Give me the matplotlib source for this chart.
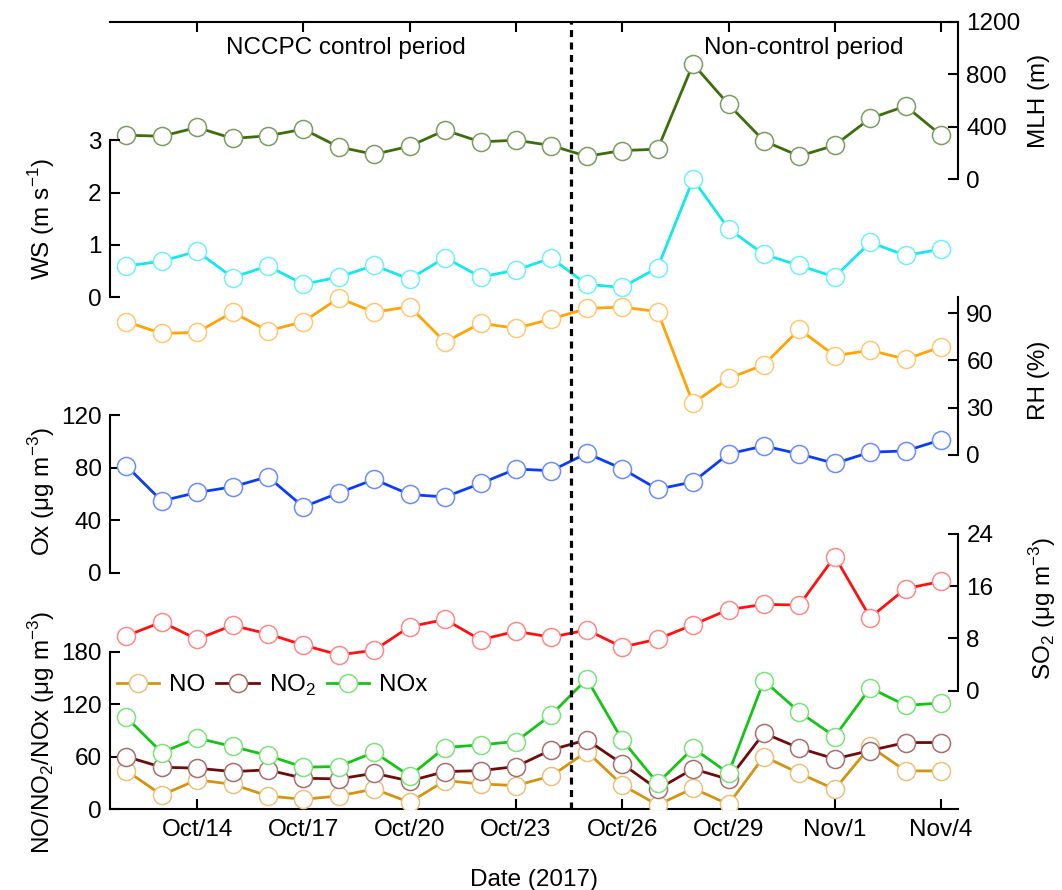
import numpy as np
import pandas as pd
import matplotlib
matplotlib.use('Agg')
import matplotlib.pyplot as plt

plt.rcParams['font.family'] = ['Liberation Sans', 'DejaVu Sans']
plt.rcParams['mathtext.fontset'] = 'custom'
plt.rcParams['mathtext.rm'] = 'Liberation Sans'
plt.rcParams['font.size'] = 17.5

dates = pd.date_range('2017-10-12', '2017-11-04', freq='D')

mlh = [337, 329, 396, 312, 332, 383, 247, 191, 253, 375, 286, 299,
       258, 176, 220, 230, 880, 572, 293, 178, 260, 465, 559, 337]
ws = [0.60, 0.69, 0.88, 0.38, 0.60, 0.25, 0.39, 0.61, 0.35, 0.76, 0.39, 0.52,
      0.75, 0.25, 0.19, 0.57, 2.25, 1.31, 0.82, 0.61, 0.39, 1.05, 0.80, 0.92]
rh = [84.6, 77.1, 77.8, 90.6, 78.8, 84.6, 99.6, 90.6, 94.2, 71.6, 83.6, 80.4,
      86.3, 93.0, 93.9, 91.0, 32.8, 48.6, 57.2, 79.7, 63.0, 66.4, 60.8, 68.5]
ox = [81.7, 54.9, 61.3, 65.6, 73.3, 50.3, 61.0, 71.3, 59.8, 57.9, 68.2, 79.2,
      77.9, 91.2, 79.4, 63.8, 69.4, 90.7, 96.8, 90.7, 83.5, 92.0, 93.0, 101.4]
so2 = [8.4, 10.5, 7.9, 10.0, 8.7, 7.0, 5.5, 6.2, 9.8, 10.9, 7.8, 9.1,
       8.2, 9.3, 6.7, 7.9, 10.1, 12.4, 13.2, 13.1, 20.5, 11.2, 15.6, 16.7]
no = [44.0, 16.0, 33.3, 28.3, 14.9, 11.1, 14.9, 22.9, 7.6, 32.5, 28.7, 26.8,
      37.8, 65.7, 27.5, 4.6, 23.7, 5.4, 60.0, 40.9, 22.6, 71.5, 43.6, 43.6]
no2 = [60.0, 47.8, 46.7, 42.8, 44.7, 35.2, 34.4, 40.9, 32.1, 42.8, 43.9, 48.5,
       67.7, 79.1, 51.6, 22.6, 45.9, 34.0, 86.8, 69.6, 57.3, 66.9, 76.0, 76.0]
nox = [105.0, 64.6, 81.1, 71.5, 61.2, 47.8, 48.6, 65.0, 37.8, 70.3, 73.4, 77.2,
       107.8, 148.7, 79.1, 29.5, 69.6, 40.9, 146.8, 110.9, 82.9, 138.4, 118.5, 121.2]

tick_dates = pd.date_range('2017-10-14', '2017-11-04', freq='3D')
tick_labels = ['Oct/14', 'Oct/17', 'Oct/20', 'Oct/23', 'Oct/26', 'Oct/29', 'Nov/1', 'Nov/4']

fig = plt.figure(figsize=(10.62, 8.9), dpi=100)
ax = fig.add_axes([0.1036, 0.0910, 0.7985, 0.8843])
ax.set_xlim(pd.Timestamp('2017-10-11 13:00'), pd.Timestamp('2017-11-04 11:30'))
ax.set_xticks(tick_dates)
ax.set_xticklabels(tick_labels)
ax.tick_params(axis='x', direction='in', top=True, length=7.5, width=1.5, pad=7)
ax.set_yticks([])
for s in ['left', 'right']:
    ax.spines[s].set_visible(False)
for s in ['top', 'bottom']:
    ax.spines[s].set_linewidth(1.5)
ax.set_xlabel('Date (2017)', labelpad=20)


def panel(side, top, f0, f1, ticks, label, label_y):
    # one twin axes per quantity, squeezed into its own band of the frame
    tw = ax.twinx()
    scale = top / (f1 - f0)
    lo = -f0 * scale
    tw.set_ylim(lo, lo + scale)
    tw.patch.set_visible(False)
    for s in ['top', 'bottom', 'left', 'right']:
        tw.spines[s].set_visible(False)
    tw.spines[side].set_visible(True)
    tw.spines[side].set_bounds(0, top)
    tw.spines[side].set_linewidth(1.5)
    if side == 'left':
        tw.yaxis.tick_left()
        tw.yaxis.set_label_position('left')
    tw.set_yticks(ticks)
    tw.tick_params(axis='y', direction='in', length=7.5, width=1.5, pad=6)
    tw.set_ylabel(label)
    if side == 'left':
        tw.yaxis.set_label_coords(-0.062, label_y)
    else:
        tw.yaxis.set_label_coords(1.082, label_y)
    return tw


def series(tw, vals, c, ec, lab=None):
    tw.plot(dates, vals, '-o', color=c, lw=2, ms=13, mfc='white', mec=ec,
            mew=1.1, label=lab)


ax_mlh = panel('right', 1200, 0.80, 1.0, [0, 400, 800, 1200], 'MLH (m)', 0.90)
series(ax_mlh, mlh, '#3d6e0c', '#7d9c62')

ax_ws = panel('left', 3, 0.65, 0.85, [0, 1, 2, 3], r'WS (m s$^{\mathregular{-1}}$)', 0.75)
series(ax_ws, ws, '#14e8ee', '#6ff2f6')

ax_rh = panel('right', 100, 0.45, 0.65, [0, 30, 60, 90], 'RH (%)', 0.545)
series(ax_rh, rh, '#ffa405', '#ffc870')

ax_ox = panel('left', 120, 0.30, 0.50, [0, 40, 80, 120], r'Ox (μg m$^{\mathregular{-3}}$)', 0.404)
series(ax_ox, ox, '#0b3df2', '#6a8cff')

ax_so2 = panel('right', 24, 0.15, 0.35, [0, 8, 16, 24], r'SO$_{\mathregular{2}}$ (μg m$^{\mathregular{-3}}$)', 0.255)
series(ax_so2, so2, '#ff1010', '#ff8888')

ax_nox = panel('left', 180, 0.0, 0.20, [0, 60, 120, 180],
               r'NO/NO$_{\mathregular{2}}$/NOx (μg m$^{\mathregular{-3}}$)', 0.097)
series(ax_nox, no, '#d4940f', '#e8c27a', 'NO')
series(ax_nox, no2, '#6e0b0b', '#a86e6e', r'NO$_{\mathregular{2}}$')
series(ax_nox, nox, '#16c416', '#7ae37a', 'NOx')
ax_nox.legend(loc='center left', bbox_to_anchor=(0.008, 0.1576), frameon=False,
              ncol=3, handlelength=1.75, handletextpad=0.4, columnspacing=0.45,
              borderpad=0, borderaxespad=0)

ax_nox.axvline(pd.Timestamp('2017-10-24 13:10'), color='black', lw=2.3,
               ls=(0, (2.2, 1.7)), zorder=10)

ax.text(pd.Timestamp('2017-10-18 05:00'), 0.967, 'NCCPC control period',
        transform=ax.get_xaxis_transform(), ha='center', va='center')
ax.text(pd.Timestamp('2017-10-31 03:00'), 0.967, 'Non-control period',
        transform=ax.get_xaxis_transform(), ha='center', va='center')

plt.savefig('out.png', dpi=100)
